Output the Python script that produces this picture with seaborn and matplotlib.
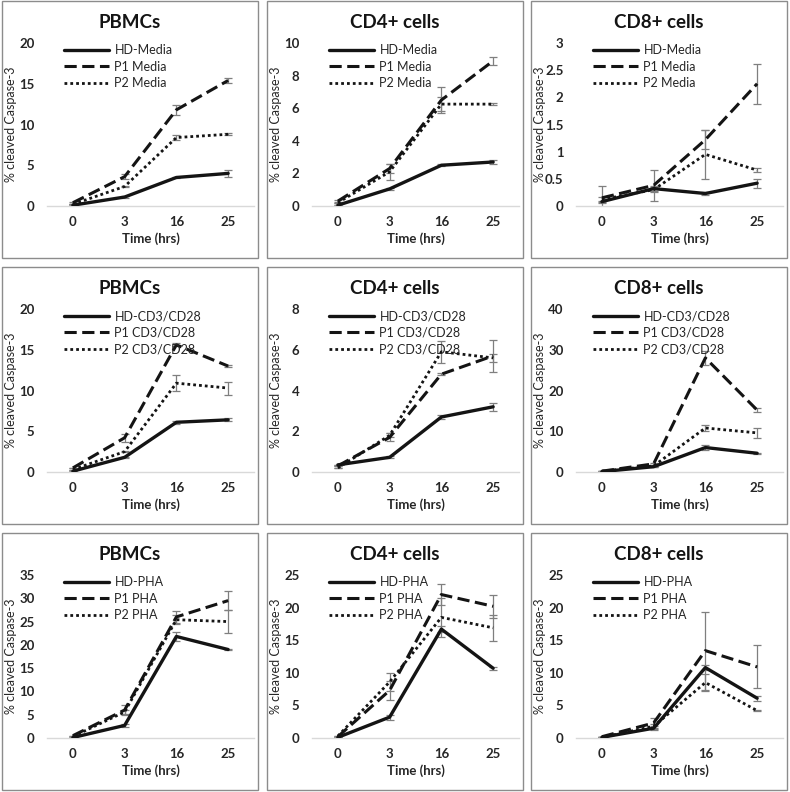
import matplotlib
matplotlib.use('Agg')
import matplotlib.pyplot as plt
import seaborn as sns
import numpy as np
import pandas as pd
from matplotlib.patches import Rectangle

# x categories (hrs)
time_labels = ["0", "3", "16", "25"]

# series order in every panel: HD, P1, P2
# --- Media ---
pbmc_media = [[0.1, 1.1, 3.5, 4.0], [0.4, 3.6, 11.8, 15.4], [0.2, 2.4, 8.4, 8.8]]
pbmc_media_err = [[0, 0.1, 0.1, 0.4], [0.1, 0.3, 0.6, 0.3], [0, 0.1, 0.3, 0.1]]
cd4_media = [[0.05, 1.05, 2.5, 2.7], [0.3, 2.3, 6.5, 8.9], [0.2, 2.1, 6.25, 6.25]]
cd4_media_err = [[0, 0.05, 0.05, 0.1], [0.05, 0.3, 0.8, 0.25], [0, 0.5, 0.45, 0.05]]
cd8_media = [[0.08, 0.32, 0.23, 0.42], [0.15, 0.38, 1.22, 2.25], [0.12, 0.30, 0.95, 0.66]]
cd8_media_err = [[0.02, 0.04, 0.02, 0.08], [0.22, 0.29, 0.18, 0.37], [0.05, 0.05, 0.45, 0.04]]

# --- CD3/CD28 ---
pbmc_cd3 = [[0.1, 1.8, 6.1, 6.4], [0.5, 4.2, 15.6, 13.0], [0.3, 2.5, 10.9, 10.3]]
pbmc_cd3_err = [[0, 0.1, 0.2, 0.2], [0, 0.5, 0.2, 0.15], [0, 0.1, 1.0, 0.8]]
cd4_cd3 = [[0.35, 0.72, 2.7, 3.2], [0.3, 1.7, 4.8, 5.7], [0.2, 1.8, 5.9, 5.6]]
cd4_cd3_err = [[0, 0.05, 0.1, 0.2], [0, 0.2, 0.05, 0.8], [0, 0.1, 0.55, 0.2]]
cd8_cd3 = [[0.1, 1.3, 6.0, 4.6], [0.2, 2.0, 28.0, 15.2], [0.2, 1.5, 10.8, 9.6]]
cd8_cd3_err = [[0, 0.1, 0.6, 0.1], [0, 0.3, 1.8, 0.5], [0, 0.2, 0.8, 1.2]]

# --- PHA ---
pbmc_pha = [[0.1, 2.7, 21.8, 19.0], [0.5, 6.0, 26.0, 29.5], [0.3, 5.6, 25.4, 25.0]]
pbmc_pha_err = [[0, 0.3, 1.0, 0.2], [0, 1.0, 1.2, 2.0], [0, 0.5, 1.0, 2.5]]
cd4_pha = [[0.1, 3.2, 16.7, 10.7], [0.2, 7.3, 22.0, 20.2], [0.3, 8.6, 18.5, 16.9]]
cd4_pha_err = [[0, 0.4, 0.5, 0.2], [0, 1.5, 1.6, 1.8], [0, 1.4, 3.0, 2.0]]
cd8_pha = [[0.1, 1.5, 10.8, 6.1], [0.2, 2.3, 13.4, 10.9], [0.1, 1.8, 8.5, 4.2]]
cd8_pha_err = [[0, 0.3, 0.4, 0.4], [0, 0.7, 6.0, 3.3], [0, 0.4, 1.3, 0.1]]

titles = ["PBMCs", "CD4+ cells", "CD8+ cells"]
conditions = ["Media", "CD3/CD28", "PHA"]
legend_names = [["HD-Media", "P1 Media", "P2 Media"],
                ["HD-CD3/CD28", "P1 CD3/CD28", "P2 CD3/CD28"],
                ["HD-PHA", "P1 PHA", "P2 PHA"]]
y_max = [[20, 10, 3], [20, 8, 40], [35, 25, 25]]
y_step = [[5, 2, 0.5], [5, 2, 10], [5, 5, 5]]

panels = [[(pbmc_media, pbmc_media_err), (cd4_media, cd4_media_err), (cd8_media, cd8_media_err)],
          [(pbmc_cd3, pbmc_cd3_err), (cd4_cd3, cd4_cd3_err), (cd8_cd3, cd8_cd3_err)],
          [(pbmc_pha, pbmc_pha_err), (cd4_pha, cd4_pha_err), (cd8_pha, cd8_pha_err)]]

sns.set_style("white")
plt.rcParams['font.family'] = ['Lato', 'DejaVu Sans']

W, H = 790, 792
fig = plt.figure(figsize=(7.9, 7.92), dpi=100)
fig.patch.set_facecolor('white')

col_left = [2, 267, 531]
row_top = [1, 267, 533]
panel_w, panel_h = 256, 257

styles = [dict(linestyle='-', linewidth=2.4),
          dict(linestyle=(0, (4, 1.8)), linewidth=2.2),
          dict(linestyle=(0, (1, 1.1)), linewidth=2.0)]

for r in range(3):
    for c in range(3):
        px, py = col_left[c], row_top[r]
        # panel border
        fig.patches.append(Rectangle((px / W, 1 - (py + panel_h) / H), panel_w / W, panel_h / H,
                                     transform=fig.transFigure, fill=False,
                                     edgecolor='#8c8c8c', linewidth=1.0))
        # plot area
        left, right = px + 45, px + 252
        top, bottom = py + 42, py + 205
        ax = fig.add_axes([left / W, 1 - bottom / H, (right - left) / W, (bottom - top) / H])
        vals, errs = panels[r][c]
        names = legend_names[r]
        df = pd.DataFrame({
            'pos': np.tile(np.arange(4), 3),
            'value': np.concatenate(vals),
            'err': np.concatenate(errs),
            'series': np.repeat(names, 4),
        })
        for i, name in enumerate(names):
            sub = df[df['series'] == name]
            ax.errorbar(sub['pos'], sub['value'], yerr=sub['err'], fmt='none',
                        ecolor='#7f7f7f', elinewidth=0.9, capsize=3, capthick=0.9, zorder=2)
            sns.lineplot(data=sub, x='pos', y='value', ax=ax, color='#141414',
                         label=name, zorder=3, **styles[i])

        ax.set_xlim(-0.5, 3.5)
        ax.set_ylim(0, y_max[r][c])
        ax.set_xticks(range(4))
        ax.set_xticklabels(time_labels)
        ticks = np.arange(0, y_max[r][c] + y_step[r][c] / 2, y_step[r][c])
        ax.set_yticks(ticks)
        ax.set_yticklabels([f"{t:g}" for t in ticks])
        ax.tick_params(axis='both', length=0, labelsize=9.5)
        ax.tick_params(axis='y', pad=9)
        ax.tick_params(axis='x', pad=7)
        for lab in ax.get_xticklabels() + ax.get_yticklabels():
            lab.set_fontweight('bold')
            lab.set_color('#262626')
        for side in ['top', 'right', 'left']:
            ax.spines[side].set_visible(False)
        ax.spines['bottom'].set_color('#d9d9d9')
        ax.spines['bottom'].set_linewidth(1.0)
        ax.set_xlabel("")
        ax.set_ylabel("")
        ax.patch.set_alpha(0)

        ax.legend(loc='upper left', bbox_to_anchor=(0.03, 1.06), frameon=False,
                  fontsize=9, handlelength=3.6, labelspacing=0.35, handletextpad=0.4,
                  labelcolor='#262626')

        # title, axis labels
        fig.text((px + panel_w / 2) / W, 1 - (py + 22) / H, titles[c], ha='center', va='center',
                 fontsize=13.5, fontweight='bold', color='#141414')
        fig.text((left + right) / 2 / W, 1 - (py + 238) / H, "Time (hrs)", ha='center', va='center',
                 fontsize=9.5, fontweight='bold', color='#262626')
        fig.text((px + 9) / W, 1 - (top + bottom) / 2 / H, "% cleaved Caspase-3", ha='center',
                 va='center', rotation=90, fontsize=9, color='#262626')

fig.savefig("out.png", dpi=100, facecolor='white')
